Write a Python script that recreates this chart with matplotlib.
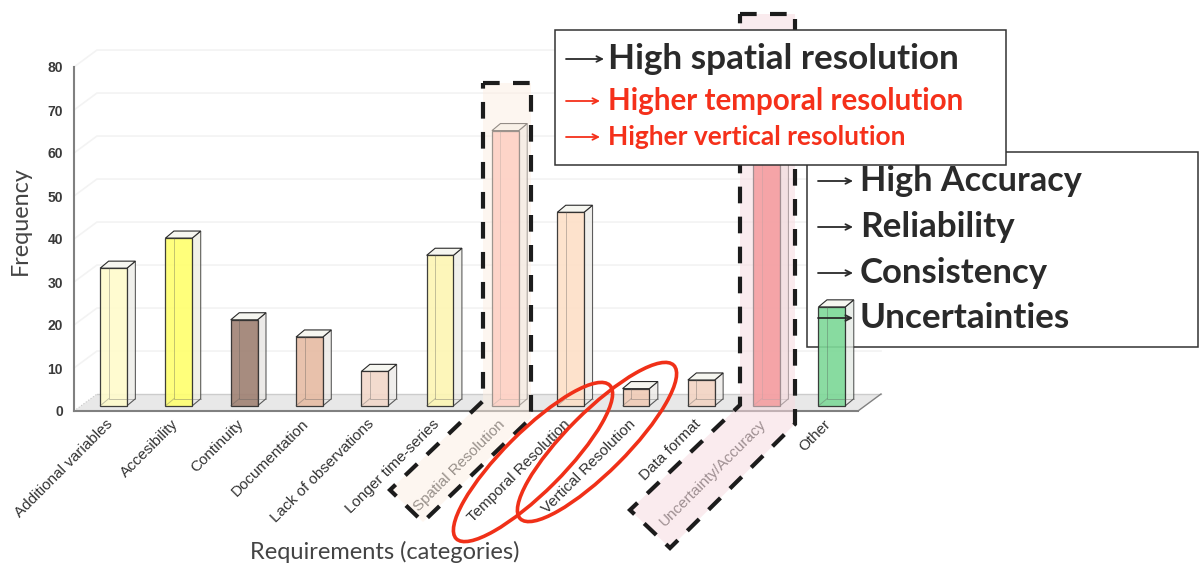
import matplotlib
matplotlib.use("Agg")
import matplotlib.pyplot as plt
from matplotlib.patches import Ellipse, Polygon, Rectangle
from matplotlib.transforms import Affine2D

categories = ["Additional variables", "Accesibility", "Continuity", "Documentation",
              "Lack of observations", "Longer time-series", "Spatial Resolution",
              "Temporal Resolution", "Vertical Resolution", "Data format",
              "Uncertainty/Accuracy", "Other"]
frequency = [32, 39, 20, 16, 8, 35, 64, 45, 4, 6, 75, 23]
bar_colors = ["#fffbcc", "#ffff70", "#a08274", "#e6bca4", "#f3d8ca", "#fdf6b4",
              "#ffb4a8", "#fde0c8", "#f0ccb8", "#f3d4c4", "#f25656", "#7ed898"]
y_ticks = [0, 10, 20, 30, 40, 50, 60, 70, 80]

WIDTH, HEIGHT = 1201, 567
fig = plt.figure(figsize=(WIDTH / 100, HEIGHT / 100), dpi=100)
ax = fig.add_axes([74 / WIDTH, (HEIGHT - 411) / HEIGHT, 784 / WIDTH, 344 / HEIGHT])
ax.set_xlim(-0.605, 11.40)
ax.set_ylim(0, 80)

# picture pixels, y going down, for the pasted-on annotations
px = Affine2D().scale(1, -1).translate(0, HEIGHT)

# 3d look: sizes in axis units
bar_w = 0.41
bar_dx = 0.13
bar_dy = 1.65
base = 1.2
back_dx = 0.352
back_dy = 3.95
right = 11.40

for s in ["top", "right"]:
    ax.spines[s].set_visible(False)
for s in ["left", "bottom"]:
    ax.spines[s].set_color("#808080")
    ax.spines[s].set_linewidth(1.5)
    ax.spines[s].set_zorder(2.5)

# back wall grid lines
for t in y_ticks[1:]:
    ax.plot([-0.605, -0.605 + back_dx, right + back_dx], [t, t + back_dy, t + back_dy],
            color="#f3f3f3", lw=1.2, zorder=1, clip_on=False)
ax.plot([-0.605, -0.605 + back_dx], [0, back_dy], color="#c8c8c8", lw=0.8, ls=":", zorder=1.2)

# floor
ax.add_patch(Polygon([(-0.605, 0), (right, 0), (right + back_dx, back_dy), (-0.605 + back_dx, back_dy)],
                     closed=True, fc="#e8e8e8", ec="none", zorder=1.1, clip_on=False))
ax.plot([-0.605 + back_dx, right + back_dx], [back_dy, back_dy], color="#cccccc", lw=1, zorder=1.2, clip_on=False)
ax.plot([right, right + back_dx], [0, back_dy], color="#808080", lw=1, zorder=1.2, clip_on=False)

# text box behind the Other bar hides the grid
ax.add_patch(Rectangle((807, 152), 391, 195, transform=px, fc="white", ec="#333333", lw=1.1,
                       zorder=1.5, clip_on=False))

# bars
edge = "#2a2a2a"
for i, (v, c) in enumerate(zip(frequency, bar_colors)):
    x0 = i - bar_w / 2
    x1 = i + bar_w / 2
    y0 = base
    y1 = base + v
    dx, dy = bar_dx, bar_dy
    # back of the box, very faint
    ax.fill([x0 + dx, x1 + dx, x1 + dx, x0 + dx], [y0 + dy, y0 + dy, y1 + dy, y1 + dy],
            fc=c, ec="none", alpha=0.2, zorder=3, clip_on=False)
    # side
    ax.fill([x1, x1 + dx, x1 + dx, x1], [y0, y0 + dy, y1 + dy, y1],
            fc="#ececea", ec=edge, lw=0.8, alpha=0.75, zorder=3.2, clip_on=False)
    # top
    ax.fill([x0, x1, x1 + dx, x0 + dx], [y1, y1, y1 + dy, y1 + dy],
            fc="#f6f6f0", ec=edge, lw=0.8, zorder=3.2, clip_on=False)
    # front
    ax.fill([x0, x1, x1, x0], [y0, y0, y1, y1],
            fc=c, ec=edge, lw=0.9, alpha=0.9, zorder=3.3, clip_on=False)
    # hidden edges seen through the front
    ax.plot([x0 + dx, x0 + dx, x1 + dx], [y1, y0 + dy, y0 + dy], color="#555555", lw=0.7, alpha=0.35,
            zorder=3.4, clip_on=False)
    ax.plot([x0, x0 + dx], [y0, y0 + dy], color="#555555", lw=0.7, alpha=0.35, zorder=3.4, clip_on=False)

ax.set_yticks(y_ticks)
ax.set_yticklabels(y_ticks, fontfamily="Liberation Sans", fontweight="bold", fontsize=10, color="#3a3a3a")
ax.tick_params(axis="y", length=0, pad=8)
ax.set_xticks(range(len(categories)))
ax.set_xticklabels(categories, rotation=45, ha="right", va="top", rotation_mode="anchor",
                   fontfamily="Liberation Sans", fontsize=11, color="#333333")
ax.tick_params(axis="x", length=0, pad=5)
shift = Affine2D().translate(-8, 1)
for lab in ax.get_xticklabels():
    lab.set_zorder(4)
    lab.set_transform(lab.get_transform() + shift)

ax.set_ylabel("Frequency", fontfamily="Lato", fontsize=16.8, color="#444444", labelpad=0)
ax.yaxis.set_label_coords(-43 / 784, (411 - 221) / 344)
ax.set_xlabel("Requirements (categories)", fontfamily="Lato", fontsize=17, color="#444444")
ax.xaxis.set_label_coords((385 - 74) / 784, -(552 - 411) / 344)
ax.xaxis.label.set_va("center")

# highlighted bands with dashed frames
spatial_band = [(483, 83), (531, 83), (531, 418), (423, 522), (390, 490), (483, 401)]
accuracy_band = [(740, 14), (795, 14), (795, 424), (670, 548), (630, 510), (740, 405)]
for pts, col, al in [(spatial_band, "#fdeee2", 0.5), (accuracy_band, "#f7dbe0", 0.55)]:
    ax.add_patch(Polygon(pts, closed=True, transform=px, fc=col, alpha=al, ec="none", zorder=5, clip_on=False))
    ax.add_patch(Polygon(pts, closed=True, transform=px, fill=False, ec="#1c1c1c", lw=3.0,
                         ls=(0, (4, 3.2)), zorder=5.1, clip_on=False))

# red ellipses
for cx, cy in [(533, 462), (597, 442)]:
    ax.add_patch(Ellipse((cx, cy), 217, 60, angle=-45, transform=px, fill=False, ec="#f03018", lw=2.6,
                         zorder=6, clip_on=False))

# top text box
ax.add_patch(Rectangle((555, 30), 451, 135, transform=px, fc="white", ec="#333333", lw=1.1,
                       zorder=7, clip_on=False))


def arrow(x0, x1, y, col):
    ax.annotate("", xy=(x1, y), xytext=(x0, y), xycoords=px, textcoords=px, zorder=8,
                arrowprops=dict(arrowstyle="->", color=col, lw=1.3, shrinkA=0, shrinkB=0, mutation_scale=10))


red = "#f5301a"
dark = "#2a2a2a"
lines_top = [("High spatial resolution", 608, 59, 25.3, dark, 566, 604),
             ("Higher temporal resolution", 608, 101, 21.3, red, 566, 600),
             ("Higher vertical resolution", 608, 137, 19, red, 566, 600)]
lines_side = [("High Accuracy", 860, 181, 24.7, dark, 818, 853),
              ("Reliability", 860, 227, 25.3, dark, 818, 853),
              ("Consistency", 860, 273, 25, dark, 818, 853),
              ("Uncertainties", 860, 318, 25.3, dark, 818, 853)]
for label, x, y, size, col, a0, a1 in lines_top + lines_side:
    ax.text(x, y, label, transform=px, fontfamily="Lato", fontweight="bold", fontsize=size, color=col,
            ha="left", va="center", zorder=8, clip_on=False)
    arrow(a0, a1, y, col)

fig.savefig("out.png", dpi=100)
